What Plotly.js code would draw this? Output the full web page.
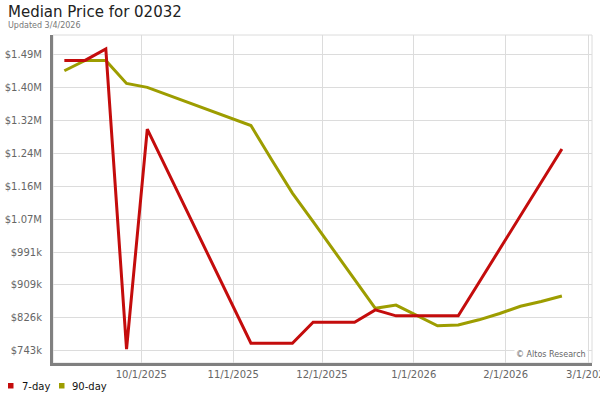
<!DOCTYPE html>
<html>
<head>
<meta charset="utf-8">
<script src="https://cdn.plot.ly/plotly-3.0.1.min.js"></script>
<style>html,body{margin:0;padding:0;background:#fff;}#chart{width:600px;height:400px;}</style>
</head>
<body>
<div id="chart"></div>
<script>
// Weekly observation dates
const dates = [
  '2025-09-05','2025-09-12','2025-09-19','2025-09-26','2025-10-03','2025-10-10',
  '2025-10-17','2025-10-24','2025-10-31','2025-11-07','2025-11-14','2025-11-21',
  '2025-11-28','2025-12-05','2025-12-12','2025-12-19','2025-12-26','2026-01-02',
  '2026-01-09','2026-01-16','2026-01-23','2026-01-30','2026-02-06','2026-02-13',
  '2026-02-20'
];
// 7-day median price (USD)
const sevenDay = [
  1474000, 1474000, 1503000, 747000, 1301000, 1193000,
  1086000, 978000, 870000, 762000, 762000, 762000,
  815000, 815000, 815000, 846000, 831000, 831000,
  831000, 831000, 915000, 999000, 1083000, 1167000,
  1251000
];
// 90-day median price (USD)
const ninetyDay = [
  1448000, 1474000, 1474000, 1416000, 1406000, 1387000,
  1368000, 1348000, 1329000, 1310000, 1224000, 1140000,
  1068000, 995000, 923000, 850000, 858000, 832000,
  806000, 808000, 821000, 837000, 855000, 867000,
  881000
];
const seriesNames = ['7-day', '90-day'];
const yTickVals = [743300, 826000, 908700, 991400, 1074100, 1156800, 1239500, 1322200, 1404900, 1487600];
const yTickText = ['$743k','$826k','$909k','$991k','$1.07M','$1.16M','$1.24M','$1.32M','$1.40M','$1.49M'];
const xTickVals = ['2025-10-01','2025-11-01','2025-12-01','2026-01-01','2026-02-01','2026-03-01'];
const xTickText = ['10/1/2025','11/1/2025','12/1/2025','1/1/2026','2/1/2026','3/1/2026'];

const RED = '#c40c0c';
const OLIVE = '#9d9d00';
const FONT = 'DejaVu Sans, Verdana, sans-serif';

const traces = [
  {x: dates, y: ninetyDay, name: seriesNames[1], type: 'scatter', mode: 'lines', line: {color: OLIVE, width: 3}, showlegend: false, hoverinfo: 'skip'},
  {x: dates, y: sevenDay, name: seriesNames[0], type: 'scatter', mode: 'lines', line: {color: RED, width: 3}, showlegend: false, hoverinfo: 'skip'}
];

// pixel -> paper helpers (plot area: x 53..592, y 35..363)
const px = v => (v - 53) / 539;
const py = v => (363 - v) / 328;

const layout = {
  width: 600, height: 400,
  margin: {l: 53, r: 8, t: 35, b: 37, pad: 0},
  paper_bgcolor: '#fff', plot_bgcolor: '#fff',
  font: {family: FONT, size: 10, color: '#666'},
  showlegend: false,
  xaxis: {
    type: 'date',
    range: ['2025-09-01 04:00', '2026-03-02 04:00'],
    tickvals: xTickVals, ticktext: xTickText,
    ticklabeloverflow: 'allow',
    showgrid: true, gridcolor: '#dcdcdc', gridwidth: 1,
    showline: true, linecolor: '#808080', linewidth: 3,
    ticks: '', ticklen: 0,
    tickfont: {family: FONT, size: 10, color: '#666'},
    zeroline: false, fixedrange: true
  },
  yaxis: {
    range: [712300, 1537900],
    tickvals: yTickVals, ticktext: yTickText,
    showgrid: true, gridcolor: '#dcdcdc', gridwidth: 1,
    showline: true, linecolor: '#808080', linewidth: 3,
    ticks: 'outside', ticklen: 6, tickcolor: 'rgba(0,0,0,0)',
    tickfont: {family: FONT, size: 10, color: '#666'},
    zeroline: false, fixedrange: true
  },
  shapes: [
    {type: 'rect', xref: 'paper', yref: 'paper', x0: 0, x1: 1, y0: 0, y1: 1,
     line: {color: '#dcdcdc', width: 1}, layer: 'below'},
    {type: 'rect', xref: 'paper', yref: 'paper', x0: px(8), x1: px(13.5), y0: py(388.5), y1: py(383),
     line: {width: 0}, fillcolor: RED},
    {type: 'rect', xref: 'paper', yref: 'paper', x0: px(59), x1: px(64.5), y0: py(388.5), y1: py(383),
     line: {width: 0}, fillcolor: OLIVE}
  ],
  annotations: [
    {text: 'Median Price for 02032', xref: 'paper', yref: 'paper', x: px(6), y: py(12),
     xanchor: 'left', yanchor: 'middle', showarrow: false,
     font: {family: FONT, size: 15, color: '#222'}},
    {text: 'Updated 3/4/2026', xref: 'paper', yref: 'paper', x: px(6), y: py(25.5),
     xanchor: 'left', yanchor: 'middle', showarrow: false,
     font: {family: FONT, size: 8, color: '#777'}},
    {text: '© Altos Research', xref: 'paper', yref: 'paper', x: px(588), y: py(354),
     xanchor: 'right', yanchor: 'middle', showarrow: false, bgcolor: '#fff',
     font: {family: FONT, size: 8, color: '#666'}},
    {text: seriesNames[0], xref: 'paper', yref: 'paper', x: px(20), y: py(386),
     xanchor: 'left', yanchor: 'middle', showarrow: false,
     font: {family: FONT, size: 10, color: '#111'}},
    {text: seriesNames[1], xref: 'paper', yref: 'paper', x: px(70), y: py(386),
     xanchor: 'left', yanchor: 'middle', showarrow: false,
     font: {family: FONT, size: 10, color: '#111'}}
  ]
};

Plotly.newPlot('chart', traces, layout, {displayModeBar: false, staticPlot: true});
</script>
</body>
</html>
